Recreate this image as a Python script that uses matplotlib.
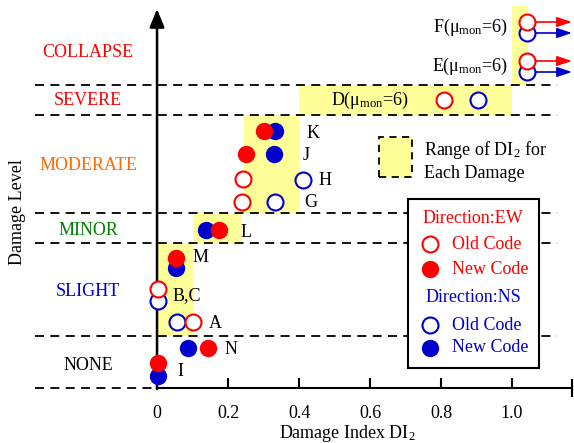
import matplotlib.pyplot as plt
from matplotlib.patches import Rectangle

plt.rcParams['font.family'] = 'Liberation Serif'
plt.rcParams['mathtext.fontset'] = 'custom'
plt.rcParams['mathtext.rm'] = 'Liberation Serif'
plt.rcParams['mathtext.it'] = 'Liberation Serif:italic'

RED = '#ff0000'
BLUE = '#0000cc'
YEL = '#ffff99'

# damage level bands (y in plot units, bottom to top)
levels = ['NONE', 'SLIGHT', 'MINOR', 'MODERATE', 'SEVERE', 'COLLAPSE']
level_colors = ['black', BLUE, 'green', '#ff6a00', RED, RED]
bounds = [0, 52, 145, 175, 273, 303]
level_text_y = [23, 97, 158, 223, 288, 336]

# DI2 range of each damage level (x0, x1, y0, y1)
ranges = [(0.0, 0.10, 52, 145),
          (0.10, 0.24, 145, 175),
          (0.245, 0.40, 175, 273),
          (0.40, 1.0, 273, 303),
          (1.0, 1.045, 303, 382)]

# points: name, DI ew old, y ew old, ... (None = no point)
names = ['I', 'N', 'A', 'B,C', 'M', 'L', 'G', 'H', 'J', 'K']
ew_di = [0.003, 0.144, 0.101, 0.003, 0.054, 0.175, 0.239, 0.242, 0.251, 0.301]
ew_y = [25, 40, 66, 99, 130, 158, 186, 209, 234, 257]
ns_di = [0.003, 0.087, 0.056, 0.003, 0.054, 0.138, 0.332, 0.411, 0.330, 0.332]
ns_y = [12, 40, 66, 87, 120, 158, 186, 208, 234, 257]
new_code = [True, True, False, False, True, True, False, False, True, True]
lab_x = [0.056, 0.189, 0.146, 0.043, 0.10, 0.236, 0.414, 0.456, 0.411, 0.42]
lab_y = [16, 38, 65, 92, 131, 156, 186, 208, 233, 255]

# monotonic cases (old code, mu_mon = 6)
mon_names = ['D', 'E', 'F']
mon_ew_di = [0.808, 1.042, 1.042]
mon_ew_y = [288, 327, 366]
mon_ns_di = [0.904, 1.042, 1.042]
mon_ns_y = [288, 316, 355]

fig = plt.figure(figsize=(5.74, 4.43), dpi=100)
ax = fig.add_axes([0, 0, 1, 1])
ax.set_xlim(-0.4423, 1.1746)
ax.set_ylim(-55, 388)

for s in ['top', 'right', 'left']:
    ax.spines[s].set_visible(False)
ax.spines['bottom'].set_position(('data', 0))
ax.spines['bottom'].set_bounds(0, 1.17)
ax.spines['bottom'].set_linewidth(1.5)
ax.set_yticks([])
ax.set_xticks([0, 0.2, 0.4, 0.6, 0.8, 1.0])
ax.set_xticklabels(['0', '0.2', '0.4', '0.6', '0.8', '1.0'])
ax.set_xticks([1.17], minor=True)
ax.tick_params(axis='x', which='major', direction='in', length=7, width=1.5,
               pad=12, labelsize=13)
ax.tick_params(axis='x', which='minor', direction='inout', length=13, width=1.5)

# y axis arrow
ax.annotate('', xy=(0, 379), xytext=(0, -1),
            arrowprops=dict(arrowstyle='-|>,head_length=1.1,head_width=0.45',
                            lw=1.8, color='black', shrinkA=0, shrinkB=0))

# ranges
for x0, x1, y0, y1 in ranges:
    ax.add_patch(Rectangle((x0, y0), x1 - x0, y1 - y0, facecolor=YEL,
                           edgecolor='none', zorder=1))

# dashed boundaries
for b in bounds[1:]:
    ax.plot([-0.344, 1.127], [b, b], ls=(0, (5, 3.5)), color='black', lw=1.3, zorder=2)
ax.plot([-0.344, 0], [0, 0], ls=(0, (5, 3.5)), color='black', lw=1.3, zorder=2)

for lv, c, ty in zip(levels, level_colors, level_text_y):
    ax.text(-0.194, ty, lv, color=c, fontsize=13, ha='center', va='center')

ms = 11.5
mew = 1.5
for i in range(len(names)):
    if new_code[i]:
        ax.plot(ns_di[i], ns_y[i], 'o', ms=ms, color=BLUE, zorder=4)
        ax.plot(ew_di[i], ew_y[i], 'o', ms=ms, color=RED, zorder=5)
    else:
        ax.plot(ns_di[i], ns_y[i], 'o', ms=ms, mfc='white', mec=BLUE, mew=mew, zorder=4)
        ax.plot(ew_di[i], ew_y[i], 'o', ms=ms, mfc='white', mec=RED, mew=mew, zorder=5)
    ax.text(lab_x[i], lab_y[i], names[i], fontsize=13, ha='left', va='center')

for i, n in enumerate(mon_names):
    ax.plot(mon_ns_di[i], mon_ns_y[i], 'o', ms=ms, mfc='white', mec=BLUE, mew=mew, zorder=4)
    ax.plot(mon_ew_di[i], mon_ew_y[i], 'o', ms=ms, mfc='white', mec=RED, mew=mew, zorder=5)
    lab = n + r'(μ$_{\rm mon}$=6)'
    if n == 'D':
        ax.text(0.6, mon_ew_y[i], lab, fontsize=13, ha='center', va='center')
    else:
        ax.text(0.989, (mon_ew_y[i] + mon_ns_y[i]) / 2, lab, fontsize=13,
                ha='right', va='center')
        for xx, yy, c in [(mon_ew_di[i], mon_ew_y[i], RED), (mon_ns_di[i], mon_ns_y[i], BLUE)]:
            ax.annotate('', xy=(1.169, yy), xytext=(xx + 0.02, yy),
                        arrowprops=dict(arrowstyle='-|>,head_length=0.9,head_width=0.3',
                                        lw=1.2, color=c, shrinkA=0, shrinkB=0),
                        zorder=3)

# range legend
ax.add_patch(Rectangle((0.625, 211), 0.093, 40, facecolor=YEL, edgecolor='black',
                       ls=(0, (4, 3)), lw=1.3, zorder=3))
ax.text(0.752, 238, r'Range of DI$_2$ for', fontsize=13, va='center')
ax.text(0.752, 215, 'Each Damage', fontsize=13, va='center')

# code legend
ax.add_patch(Rectangle((0.707, 20), 0.369, 169, facecolor='white', edgecolor='black',
                       lw=1.5, zorder=6))
ax.text(0.890, 170, 'Direction:EW', color=RED, fontsize=13, ha='center', va='center', zorder=7)
ax.plot(0.769, 144, 'o', ms=ms, mfc='white', mec=RED, mew=mew, zorder=7)
ax.text(0.831, 144, 'Old Code', color=RED, fontsize=13, va='center', zorder=7)
ax.plot(0.769, 119, 'o', ms=ms, color=RED, zorder=7)
ax.text(0.831, 119, 'New Code', color=RED, fontsize=13, va='center', zorder=7)
ax.text(0.890, 90, 'Direction:NS', color=BLUE, fontsize=13, ha='center', va='center', zorder=7)
ax.plot(0.769, 63, 'o', ms=ms, mfc='white', mec=BLUE, mew=mew, zorder=7)
ax.text(0.831, 63, 'Old Code', color=BLUE, fontsize=13, va='center', zorder=7)
ax.plot(0.769, 40, 'o', ms=ms, color=BLUE, zorder=7)
ax.text(0.831, 40, 'New Code', color=BLUE, fontsize=13, va='center', zorder=7)

ax.text(0.535, -45, r'Damage Index DI$_2$', fontsize=13, ha='center', va='center')
ax.text(-0.392, 176, 'Damage Level', fontsize=13, rotation=90, ha='center', va='center')

fig.savefig('out.png', dpi=100)
